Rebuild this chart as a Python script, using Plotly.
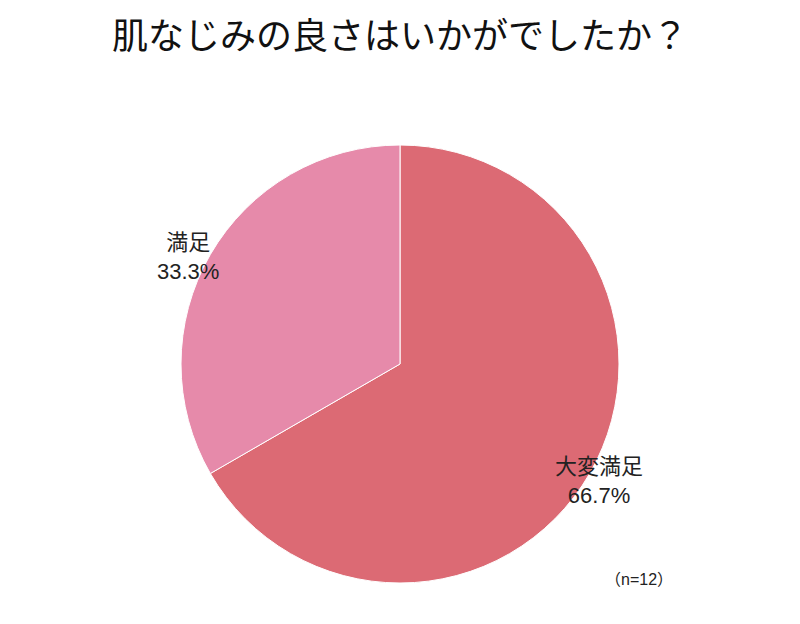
import plotly.graph_objects as go

labels = ["大変満足", "満足"]
values = [8, 4]
colors = ["#DC6A74", "#E68AAA"]
n_total = 12

pcts = [v / sum(values) * 100 for v in values]
font = "Liberation Sans, Noto Sans CJK JP"

fig = go.Figure(go.Pie(
    labels=labels, values=values, sort=False, direction="clockwise",
    marker=dict(colors=colors, line=dict(color="white", width=1)),
    textinfo="none", hoverinfo="label+percent", showlegend=False,
))

# label placement (paper coords)
label_pos = [(0.8125, 0.167), (0.1875, 0.81)]
for lab, p, (x, y) in zip(labels, pcts, label_pos):
    fig.add_annotation(x=x, y=y, xref="paper", yref="paper", showarrow=False,
                       text=f"{lab}<br>{p:.1f}%", align="center",
                       font=dict(size=22, color="#222", family=font))

fig.add_annotation(x=0.851, y=-0.016, xref="paper", yref="paper", showarrow=False,
                   text=f"（n={n_total}）", font=dict(size=16, color="#222", family=font))

fig.update_layout(
    width=800, height=624,
    title=dict(text="肌なじみの良さはいかがでしたか？", x=0.49, y=0.955, xanchor="center",
               yanchor="middle", font=dict(size=36, color="#111", family=font)),
    margin=dict(l=0, r=16, t=137, b=49),
    paper_bgcolor="white",
)
fig.write_html("out.html")
